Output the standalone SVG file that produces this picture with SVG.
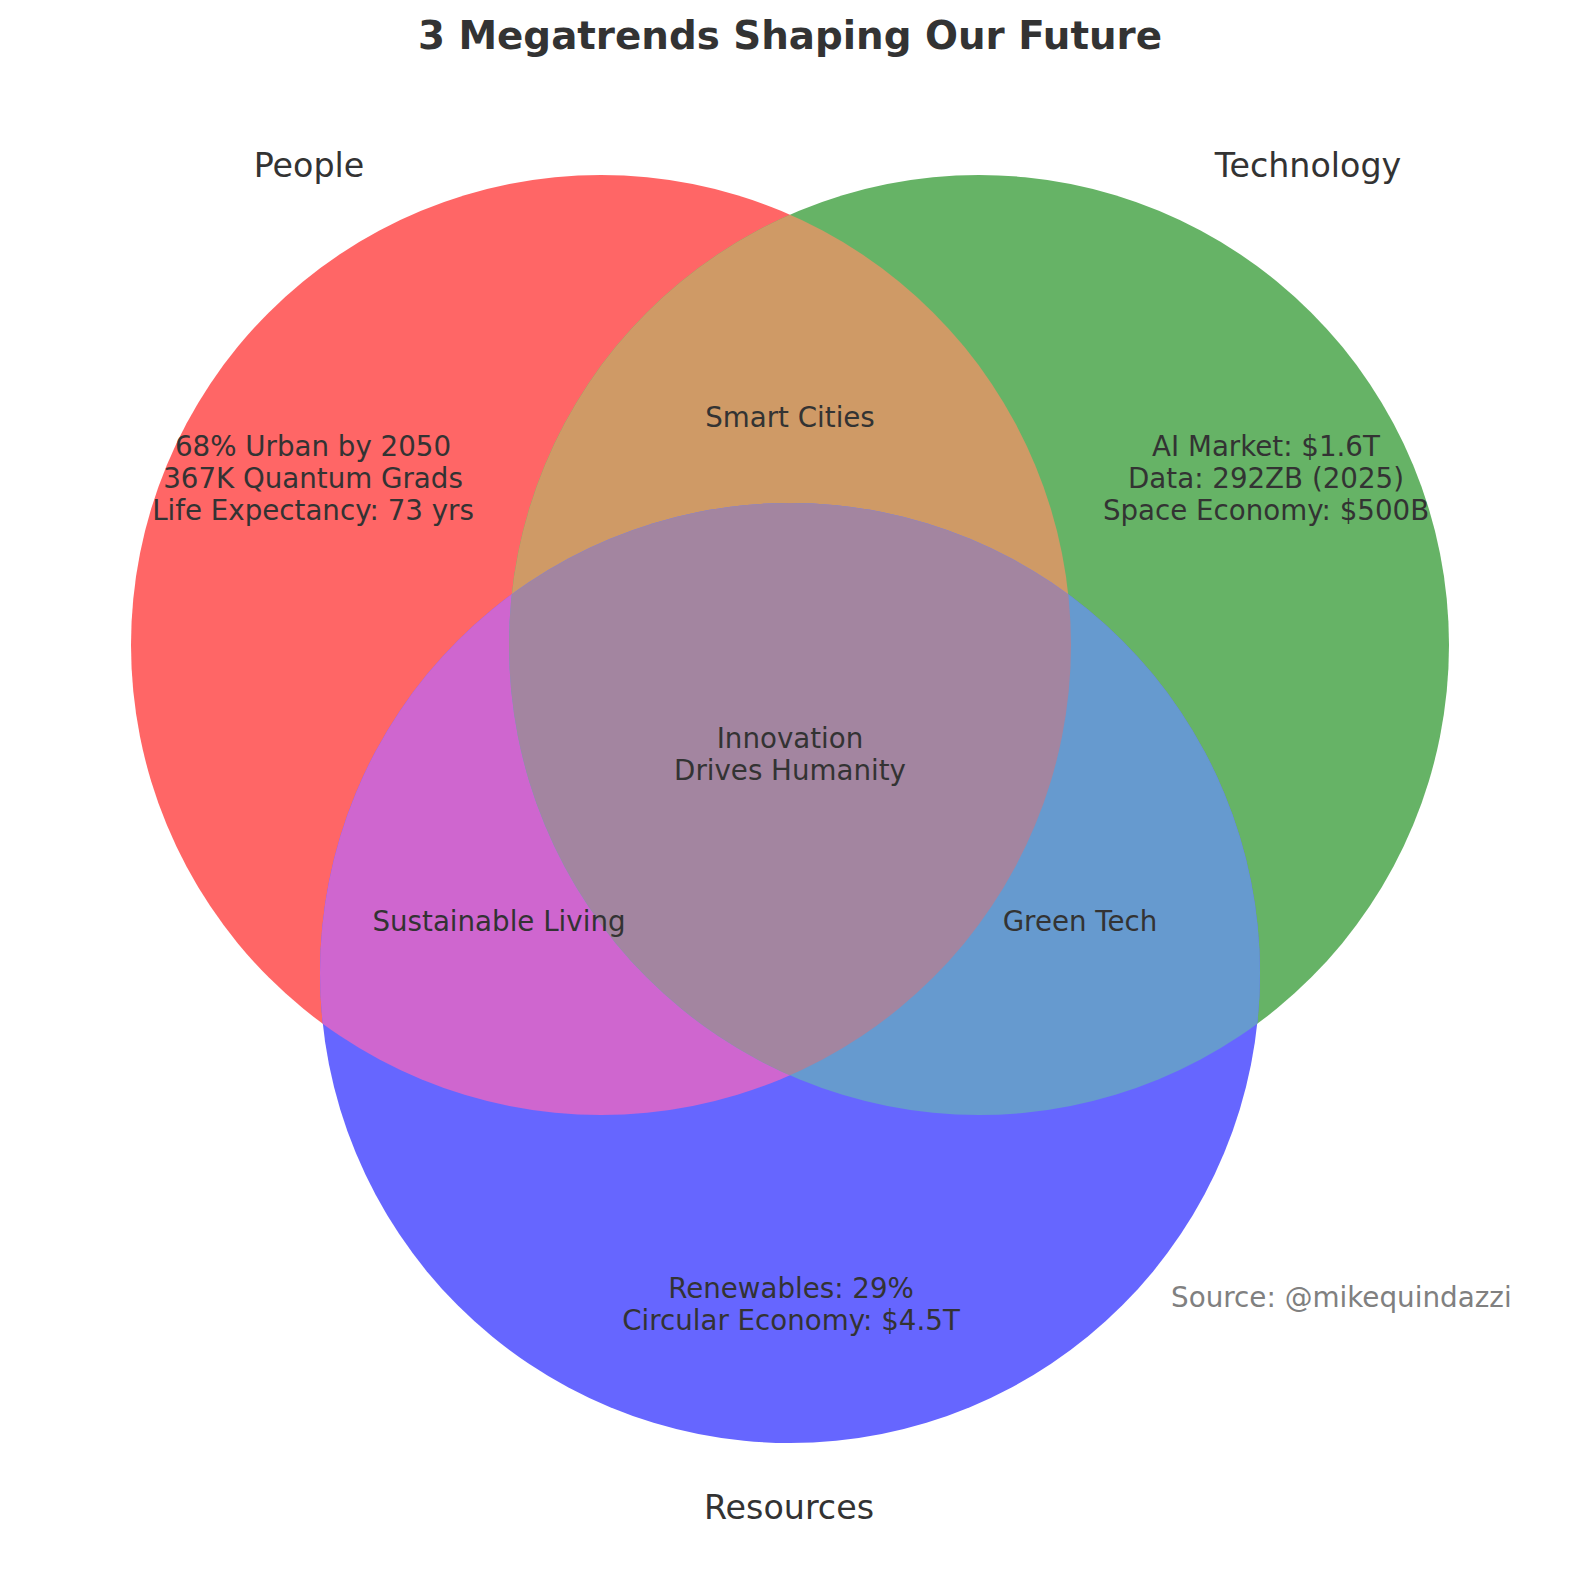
<svg xmlns="http://www.w3.org/2000/svg" width="1580" height="1575" viewBox="0 0 1580 1575">
<style>
text{font-family:"DejaVu Sans","Liberation Sans",sans-serif;fill:#333333;text-anchor:middle}
.title{font-size:38.8px;font-weight:bold}
.set{font-size:33.3px}
.in{font-size:27.7px}
.src{font-size:27.8px;fill:#808080;text-anchor:start}
</style>
<defs>
<clipPath id="cT"><circle cx="979" cy="645" r="470"/></clipPath>
<clipPath id="cR"><circle cx="790" cy="973" r="470"/></clipPath>
</defs>
<rect width="1580" height="1575" fill="#ffffff"/>
<g id="people-circle"><circle cx="601" cy="645" r="470" fill="#ff6666"/></g>
<g id="technology-circle"><circle cx="979" cy="645" r="470" fill="#66b366"/></g>
<g id="resources-circle"><circle cx="790" cy="973" r="470" fill="#6666ff"/></g>
<g id="people-technology"><circle cx="601" cy="645" r="470" fill="#cf9a66" clip-path="url(#cT)"/></g>
<g id="people-resources"><circle cx="601" cy="645" r="470" fill="#cf66cf" clip-path="url(#cR)"/></g>
<g id="technology-resources"><circle cx="979" cy="645" r="470" fill="#669acf" clip-path="url(#cR)"/></g>
<g id="all-three" clip-path="url(#cR)"><circle cx="601" cy="645" r="470" fill="#a385a0" clip-path="url(#cT)"/></g>
<g id="connectors"></g>
<g id="labels">
<text class="title" x="790" y="49">3 Megatrends Shaping Our Future</text>
<text class="set" x="309" y="177">People</text>
<text class="set" x="1308" y="177">Technology</text>
<text class="set" x="789" y="1519">Resources</text>
<text class="in" x="313" y="456">68% Urban by 2050</text>
<text class="in" x="313" y="488">367K Quantum Grads</text>
<text class="in" x="313" y="520">Life Expectancy: 73 yrs</text>
<text class="in" x="1266" y="456">AI Market: $1.6T</text>
<text class="in" x="1266" y="488">Data: 292ZB (2025)</text>
<text class="in" x="1266" y="520">Space Economy: $500B</text>
<text class="in" x="790" y="427">Smart Cities</text>
<text class="in" x="790" y="748">Innovation</text>
<text class="in" x="790" y="780">Drives Humanity</text>
<text class="in" x="499" y="931">Sustainable Living</text>
<text class="in" x="1080" y="931">Green Tech</text>
<text class="in" x="791" y="1298">Renewables: 29%</text>
<text class="in" x="791" y="1330">Circular Economy: $4.5T</text>
<text class="src" x="1171" y="1307">Source: @mikequindazzi</text>
</g>
</svg>
